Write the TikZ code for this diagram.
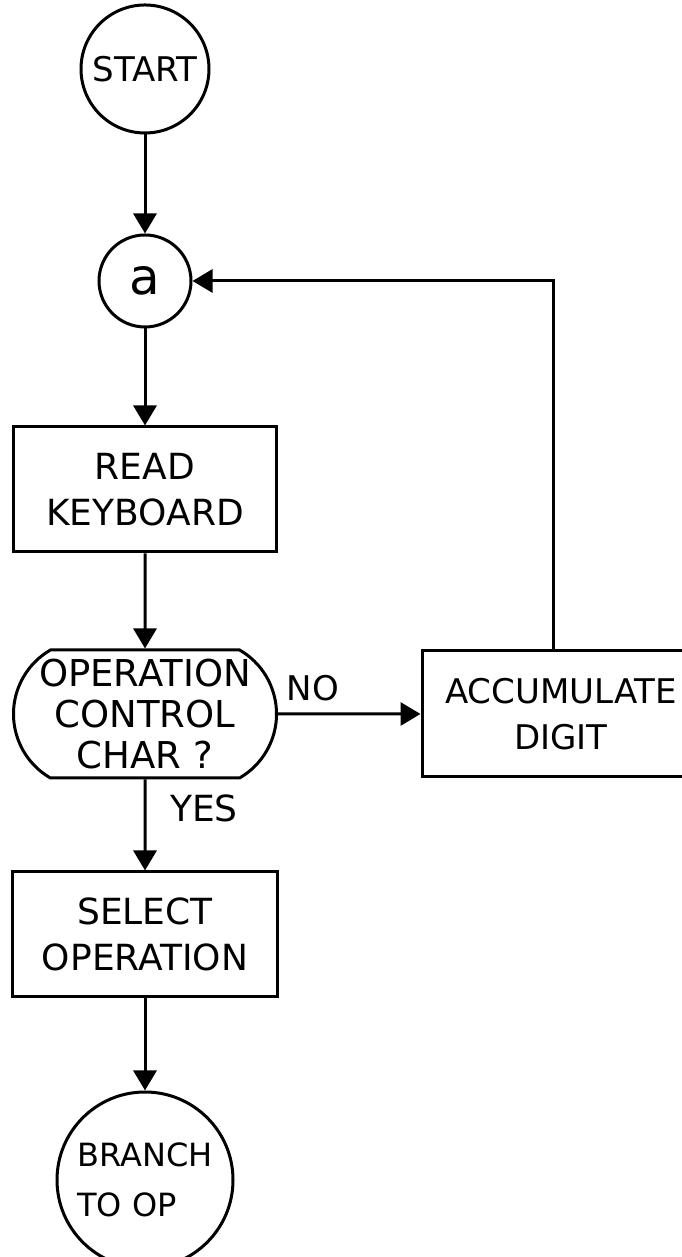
\documentclass[tikz,border=0pt]{standalone}
\usepackage{fontspec}
\setmainfont{DejaVu Sans}
\usepackage{xcolor}
\usepackage{tikz}
\usetikzlibrary{arrows.meta}
\tikzset{arrow/.style = {> = {Triangle[length = 10pt, width = 11.5pt]}}}
\usetikzlibrary{shapes.misc}
\tikzset{flowbox/.style = {draw = drawColor, rectangle, inner sep = 0pt, align = center},
         flowcirc/.style = {draw = drawColor, circle, inner sep = 0pt, align = center},
         flowtest/.style = {draw = drawColor, rounded rectangle, rounded rectangle arc length = 120,
                            inner sep = 0pt, align = center}}

\begin{document}
\begin{tikzpicture}[x=0.5pt,y=0.5pt]
\definecolor{fillColor}{RGB}{255,255,255}
\definecolor{drawColor}{RGB}{0,0,0}
\path[use as bounding box,fill=fillColor] (0,0) rectangle (681,1257);
\begin{scope}[line width=1.5pt, font=\fontsize{18}{23}\selectfont]

\node[flowcirc, minimum size=64pt, font=\fontsize{17}{20}\selectfont] (start) at (145.00,1188.00) {START};

\node[flowcirc, minimum size=46pt, font=\fontsize{25}{25}\selectfont] (a) at (145.00, 976.00) {a};

\node[flowbox, minimum width=131.5pt, minimum height=62.5pt] (read) at (145.00, 767.50) {READ\\KEYBOARD};

\node[flowtest, minimum width=131.5pt, minimum height=64pt, font=\fontsize{18.5}{20.5}\selectfont] (test) at (145.00, 543.00) {OPERATION\\CONTROL\\CHAR ?};

\node[flowbox, minimum width=139pt, minimum height=63pt, font=\fontsize{17}{23}\selectfont] (accum) at (561.00, 543.00) {ACCUMULATE\\DIGIT};

\node[flowbox, minimum width=132.5pt, minimum height=62.5pt] (select) at (145.00, 322.50) {SELECT\\OPERATION};

\node[flowcirc, minimum size=88pt, font=\fontsize{16}{25}\selectfont, align=left] (branch) at (145.00, 77.00) {BRANCH\\TO OP};

\node[text=drawColor, font=\fontsize{17}{20}\selectfont] (no) at (313.00, 569.00) {NO};
\node[text=drawColor] (yes) at (204.00, 449.00) {YES};

\coordinate (loop) at (553.00, 976.00);

\draw[arrow,->] (start) -- (a);
\draw[arrow,->] (a) -- (read);
\draw[arrow,->] (read) -- (test);
\draw[arrow,->] (test) -- (select);
\draw[arrow,->] (select) -- (branch);
\draw[arrow,->] (test) -- (accum);
\draw[arrow,->] (accum.north -| loop) -- (loop) -- (a);
\end{scope}
\end{tikzpicture}
\end{document}
